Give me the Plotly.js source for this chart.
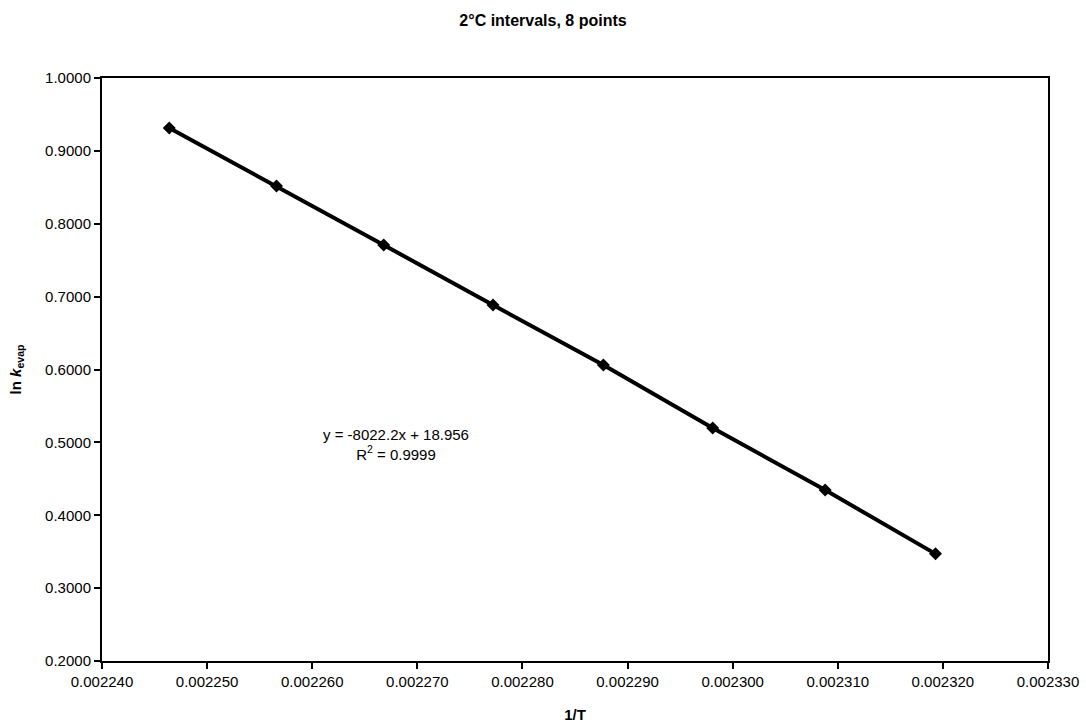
<!DOCTYPE html>
<html>
<head>
<meta charset="utf-8">
<script src="https://cdn.plot.ly/plotly-3.0.1.min.js"></script>
<style>
  html, body { margin: 0; padding: 0; background: #ffffff; }
  #chart { width: 1086px; height: 723px; }
</style>
</head>
<body>
<div id="chart"></div>
<script>
// Reciprocal temperature (1/T, K^-1) at 2 °C steps
const invT = [0.0022464, 0.0022566, 0.0022668, 0.0022772, 0.0022877, 0.0022981, 0.0023088, 0.0023193];
// ln k_evap measured at each temperature
const lnK = [0.9314, 0.8518, 0.7708, 0.6885, 0.6062, 0.5197, 0.4346, 0.3470];
// Linear fit summary
const fitLines = ["y = -8022.2x + 18.956", "R<sup>2</sup> = 0.9999"];

const font = "Liberation Sans, Arial, sans-serif";

const trace = {
  x: invT,
  y: lnK,
  type: "scatter",
  mode: "lines+markers",
  line: { color: "#000000", width: 4 },
  marker: { symbol: "diamond", size: 10, color: "#000000" },
  hoverinfo: "x+y",
  showlegend: false
};

const layout = {
  width: 1086,
  height: 723,
  paper_bgcolor: "#ffffff",
  plot_bgcolor: "#ffffff",
  margin: { l: 102, r: 38, t: 78, b: 62 },
  font: { family: font, color: "#000000", size: 15 },
  title: {
    text: "<b>2°C intervals, 8 points</b>",
    font: { family: font, size: 16, color: "#000000" },
    x: 0.5, xanchor: "center",
    y: 0.972, yanchor: "middle", yref: "container"
  },
  xaxis: {
    range: [0.00224, 0.00233],
    dtick: 0.00001,
    tick0: 0.00224,
    tickformat: ".6f",
    showgrid: false,
    zeroline: false,
    showline: true, linecolor: "#000000", linewidth: 2, mirror: true,
    ticks: "outside", ticklen: 6, tickwidth: 2, tickcolor: "#000000",
    tickfont: { family: font, size: 15 },
    title: { text: "<b>1/T</b>", font: { family: font, size: 15 }, standoff: 20 }
  },
  yaxis: {
    range: [0.2, 1.0],
    dtick: 0.1,
    tick0: 0.2,
    tickformat: ".4f",
    showgrid: false,
    zeroline: false,
    showline: true, linecolor: "#000000", linewidth: 2, mirror: true,
    ticks: "outside", ticklen: 6, tickwidth: 2, tickcolor: "#000000",
    tickfont: { family: font, size: 15 },
    title: { text: "<b>ln <i>k</i><sub>evap</sub></b>", font: { family: font, size: 15 }, standoff: 20 }
  },
  annotations: [{
    xref: "paper", yref: "paper",
    x: (396 - 102) / 946, y: (661 - 444) / 583,
    xanchor: "center", yanchor: "middle",
    text: fitLines.join("<br>"),
    align: "center",
    showarrow: false,
    font: { family: font, size: 15, color: "#000000" }
  }]
};

Plotly.newPlot("chart", [trace], layout, { displayModeBar: false, staticPlot: true });
</script>
</body>
</html>
